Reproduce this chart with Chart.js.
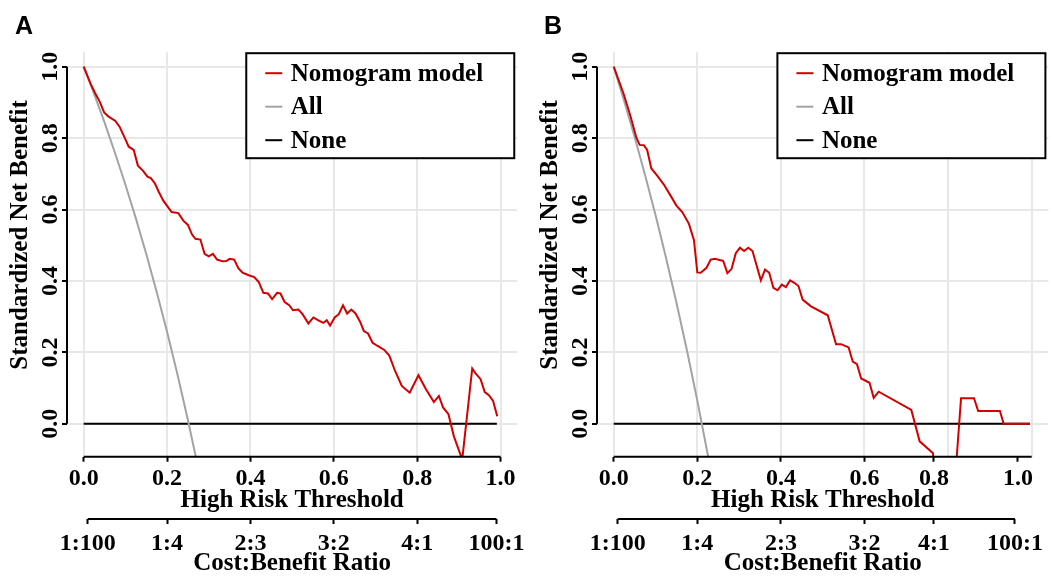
<!DOCTYPE html>
<html>
<head>
<meta charset="utf-8">
<script src="https://cdn.jsdelivr.net/npm/chart.js@4.4.1/dist/chart.umd.min.js"></script>
<style>
  html, body { margin: 0; padding: 0; background: #fff; }
  body { width: 1053px; height: 583px; overflow: hidden; position: relative; }
  .panel { position: absolute; top: 0; width: 530px; height: 583px; }
  .tag { position: absolute; top: 11px; font: bold 25px 'Liberation Sans', Arial, sans-serif; color: #000; }
</style>
</head>
<body>
<div class="panel" style="left:0"><canvas id="chartA" width="530" height="583"></canvas></div>
<div class="panel" style="left:530px"><canvas id="chartB" width="530" height="583"></canvas></div>
<div class="tag" style="left:15px">A</div>
<div class="tag" style="left:544px">B</div>

<script>
// =============== DATA ===============
const seriesNames = ['Nomogram model', 'All', 'None'];
const gridTicks = [0, 0.2, 0.4, 0.6, 0.8, 1.0];
const netBenefitTicks = [0, 0.2, 0.4, 0.6, 0.8, 1.0];
const netBenefitLabels = ['0.0', '0.2', '0.4', '0.6', '0.8', '1.0'];
const riskLabels = ['0.0', '0.2', '0.4', '0.6', '0.8', '1.0'];
const costLabels = ['1:100', '1:4', '2:3', '3:2', '4:1', '100:1'];

// tick values of the two threshold axes (panel B has its 0.8 / 1.0 marks shifted)
const riskTicksA = [0, 0.2, 0.4, 0.6, 0.8, 1.0];
const costTicksA = [0.0099, 0.2, 0.4, 0.6, 0.8, 0.99];
const riskTicksB = [0, 0.2, 0.4, 0.6, 0.766, 0.967];
const costTicksB = [0.0096, 0.2, 0.4, 0.6, 0.766, 0.96];

// Panel A
const modelAx = [0, 0.017, 0.027, 0.039, 0.049, 0.059, 0.076, 0.086, 0.098, 0.108,
  0.120, 0.130, 0.142, 0.153, 0.161, 0.171, 0.180, 0.191, 0.201, 0.211,
  0.227, 0.239, 0.250, 0.260, 0.268, 0.280, 0.290, 0.300, 0.310, 0.320,
  0.333, 0.342, 0.350, 0.361, 0.371, 0.381, 0.396, 0.409, 0.420, 0.431,
  0.442, 0.452, 0.464, 0.472, 0.482, 0.493, 0.502, 0.515, 0.525, 0.539,
  0.551, 0.563, 0.575, 0.583, 0.591, 0.602, 0.612, 0.622, 0.632, 0.642,
  0.652, 0.663, 0.672, 0.682, 0.693, 0.705, 0.721, 0.733, 0.747, 0.763,
  0.782, 0.803, 0.820, 0.840, 0.852, 0.862, 0.875, 0.888, 0.908, 0.932,
  0.939, 0.952, 0.962, 0.972, 0.982, 0.992];
const modelAy = [1.0, 0.951, 0.927, 0.901, 0.872, 0.861, 0.848, 0.832, 0.802, 0.776,
  0.767, 0.723, 0.709, 0.692, 0.688, 0.673, 0.650, 0.625, 0.609, 0.593,
  0.590, 0.569, 0.557, 0.530, 0.518, 0.516, 0.476, 0.469, 0.476, 0.460,
  0.455, 0.456, 0.462, 0.460, 0.436, 0.423, 0.416, 0.411, 0.397, 0.367,
  0.365, 0.349, 0.367, 0.365, 0.341, 0.332, 0.318, 0.320, 0.307, 0.281,
  0.298, 0.290, 0.283, 0.290, 0.275, 0.298, 0.307, 0.332, 0.309, 0.320,
  0.309, 0.286, 0.260, 0.253, 0.227, 0.218, 0.207, 0.191, 0.148, 0.106,
  0.087, 0.136, 0.099, 0.061, 0.078, 0.046, 0.027, -0.035, -0.100, 0.155,
  0.143, 0.125, 0.089, 0.080, 0.064, 0.021];
const allAx = [0, 0.025, 0.05, 0.075, 0.1, 0.125, 0.15, 0.175, 0.2, 0.225, 0.25, 0.27];
const allAy = [1.0, 0.924, 0.844, 0.759, 0.670, 0.576, 0.476, 0.370, 0.258, 0.138, 0.011, -0.098];
const noneAx = [0, 0.991];
const noneAy = [0, 0];

// Panel B
const modelBx = [0, 0.024, 0.040, 0.054, 0.062, 0.072, 0.080, 0.090, 0.104, 0.120,
  0.136, 0.150, 0.164, 0.180, 0.192, 0.200, 0.208, 0.222, 0.232, 0.242,
  0.256, 0.262, 0.272, 0.282, 0.292, 0.302, 0.312, 0.322, 0.332, 0.352,
  0.362, 0.372, 0.382, 0.392, 0.402, 0.412, 0.422, 0.432, 0.442, 0.452,
  0.472, 0.512, 0.532, 0.544, 0.562, 0.572, 0.582, 0.592, 0.612, 0.622,
  0.634, 0.712, 0.732, 0.764, 0.767, 0.819, 0.831, 0.862, 0.872, 0.924,
  0.933, 0.996];
const modelBy = [1.0, 0.923, 0.862, 0.802, 0.781, 0.780, 0.767, 0.715, 0.695, 0.670,
  0.639, 0.611, 0.593, 0.560, 0.514, 0.424, 0.423, 0.437, 0.460, 0.462,
  0.458, 0.456, 0.422, 0.434, 0.478, 0.493, 0.484, 0.493, 0.484, 0.402,
  0.432, 0.423, 0.381, 0.374, 0.390, 0.383, 0.402, 0.395, 0.386, 0.348,
  0.329, 0.304, 0.223, 0.223, 0.214, 0.174, 0.167, 0.127, 0.115, 0.073,
  0.090, 0.039, -0.049, -0.082, -0.150, -0.120, 0.072, 0.072, 0.036, 0.036,
  0.0, 0.0];
const allBx = [0, 0.025, 0.05, 0.075, 0.1, 0.125, 0.15, 0.175, 0.2, 0.225, 0.23];
const allBy = [1.0, 0.904, 0.803, 0.697, 0.585, 0.466, 0.340, 0.207, 0.065, -0.086, -0.117];
const noneBx = [0, 0.996];
const noneBy = [0, 0];

const seriesColors = ['#d20000', '#a3a3a3', '#000000'];

// =============== HELPERS ===============
const serif = "'Liberation Serif', 'Times New Roman', serif";
const tickFont = { family: serif, size: 24, weight: 'bold' };
const titleFont = { family: serif, size: 25, weight: 'bold' };
const gridColor = '#e8e8e8';

function zip(xs, ys) {
  return xs.map((x, i) => ({ x: x, y: ys[i] }));
}

function setTicks(values) {
  return function (scale) {
    scale.ticks = values.map(v => ({ value: v }));
  };
}

// axis lines, rotated y labels, y title and boxed legend
const decorations = {
  id: 'decorations',
  afterDraw(chart) {
    const ctx = chart.ctx;
    const area = chart.chartArea;
    const x = chart.scales.x, y = chart.scales.y, xc = chart.scales.xc;
    const costTicks = chart.options.plugins.decorations.costTicks;

    ctx.save();
    ctx.strokeStyle = '#000';
    ctx.lineWidth = 2;
    ctx.beginPath();
    ctx.moveTo(area.left, y.getPixelForValue(0));
    ctx.lineTo(area.left, y.getPixelForValue(1));
    ctx.moveTo(x.getPixelForValue(0), area.bottom);
    ctx.lineTo(x.getPixelForValue(1), area.bottom);
    ctx.moveTo(x.getPixelForValue(costTicks[0]), xc.top);
    ctx.lineTo(x.getPixelForValue(costTicks[costTicks.length - 1]), xc.top);
    ctx.stroke();

    // y tick labels, read bottom to top
    ctx.fillStyle = '#000';
    ctx.font = 'bold 24px ' + serif;
    ctx.textAlign = 'center';
    ctx.textBaseline = 'middle';
    netBenefitTicks.forEach((v, i) => {
      ctx.save();
      ctx.translate(51, y.getPixelForValue(v));
      ctx.rotate(-Math.PI / 2);
      ctx.fillText(netBenefitLabels[i], 0, 0);
      ctx.restore();
    });

    ctx.save();
    ctx.font = 'bold 25px ' + serif;
    ctx.translate(21, 235);
    ctx.rotate(-Math.PI / 2);
    ctx.fillText('Standardized Net Benefit', 0, 0);
    ctx.restore();

    // legend box
    const w = 268, h = 105;
    const left = area.right - 3 - w, top = area.top + 1.5;
    ctx.fillStyle = '#fff';
    ctx.fillRect(left, top, w, h);
    ctx.strokeRect(left, top, w, h);
    ctx.font = 'bold 25px ' + serif;
    ctx.textAlign = 'left';
    chart.data.datasets.forEach((ds, i) => {
      const cy = top + 20 + 33.5 * i;
      ctx.strokeStyle = ds.borderColor;
      ctx.beginPath();
      ctx.moveTo(left + 19, cy);
      ctx.lineTo(left + 36, cy);
      ctx.stroke();
      ctx.fillStyle = '#000';
      ctx.fillText(ds.label, left + 44.5, cy + 1);
    });
    ctx.restore();
  }
};

function makePanel(canvasId, series, riskTicks, costTicks) {
  const ctx = document.getElementById(canvasId).getContext('2d');
  return new Chart(ctx, {
    type: 'line',
    data: {
      datasets: series.map((s, i) => ({
        label: seriesNames[i],
        data: zip(s[0], s[1]),
        borderColor: seriesColors[i],
        borderWidth: 2,
        pointRadius: 0,
        tension: 0,
        fill: false
      }))
    },
    options: {
      responsive: false,
      animation: false,
      layout: { padding: { top: 51.7, right: 11.6, left: 0, bottom: 0 } },
      plugins: {
        legend: { display: false },
        tooltip: { enabled: false },
        decorations: { costTicks: costTicks }
      },
      scales: {
        x: {
          type: 'linear', position: 'bottom', min: -0.04, max: 1.04, weight: 0,
          afterBuildTicks: setTicks(gridTicks),
          afterFit: s => { s.height = 0; },
          ticks: { display: false },
          grid: { color: gridColor, lineWidth: 2, drawTicks: false },
          border: { display: false }
        },
        xr: {
          type: 'linear', axis: 'x', position: 'bottom', min: -0.04, max: 1.04, weight: 1,
          afterBuildTicks: setTicks(riskTicks),
          afterFit: s => { s.height = 62.3; },
          ticks: {
            font: tickFont, color: '#000', padding: 3, autoSkip: false, maxRotation: 0,
            callback: (v, i) => riskLabels[i]
          },
          grid: { drawOnChartArea: false, tickLength: 5, tickColor: '#000', tickWidth: 2 },
          border: { display: false },
          title: {
            display: true, text: 'High Risk Threshold', font: titleFont, color: '#000',
            padding: { top: 0, bottom: 3 }
          }
        },
        xc: {
          type: 'linear', axis: 'x', position: 'bottom', min: -0.04, max: 1.04, weight: 2,
          afterBuildTicks: setTicks(costTicks),
          afterFit: s => { s.height = 64; },
          ticks: {
            font: tickFont, color: '#000', padding: 5, autoSkip: false, maxRotation: 0,
            callback: (v, i) => costLabels[i]
          },
          grid: { drawOnChartArea: false, tickLength: 5, tickColor: '#000', tickWidth: 2 },
          border: { display: false },
          title: {
            display: true, text: 'Cost:Benefit Ratio', font: titleFont, color: '#000',
            padding: { top: 0, bottom: 4.5 }
          }
        },
        y: {
          type: 'linear', min: -0.092, max: 1.042,
          afterBuildTicks: setTicks(netBenefitTicks),
          afterFit: s => { s.width = 67; },
          ticks: { display: false },
          grid: { color: gridColor, lineWidth: 2, tickLength: 5, tickColor: '#000', tickWidth: 2 },
          border: { display: false }
        }
      }
    },
    plugins: [decorations]
  });
}

makePanel('chartA', [[modelAx, modelAy], [allAx, allAy], [noneAx, noneAy]], riskTicksA, costTicksA);
makePanel('chartB', [[modelBx, modelBy], [allBx, allBy], [noneBx, noneBy]], riskTicksB, costTicksB);
</script>
</body>
</html>
